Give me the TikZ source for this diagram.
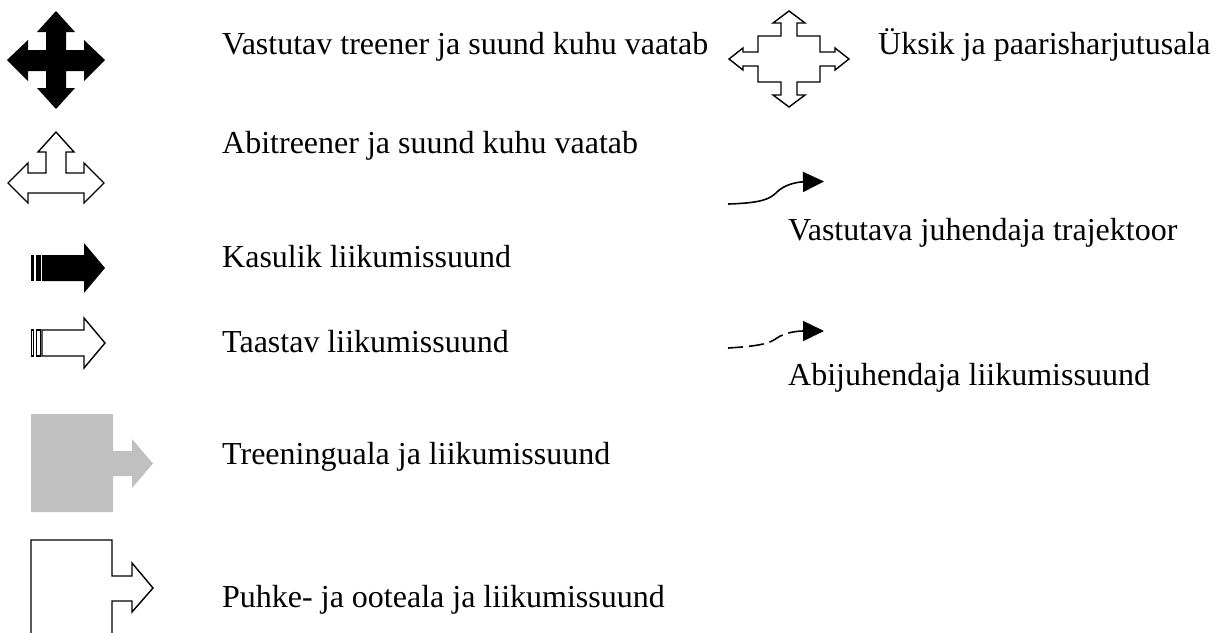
\documentclass[tikz,border=0pt]{standalone}
\usepackage{fontspec}
\setmainfont{Liberation Serif}
\usepackage{tikz}
\usetikzlibrary{arrows.meta}
\definecolor{areagray}{HTML}{C0C0C0}

\begin{document}
\begin{tikzpicture}[x=1pt,y=-1pt,
        symline/.style={draw=black,line width=1.4pt,fill=white},
        symsolid/.style={fill=black},
        lbl/.style={anchor=base west,inner sep=0pt,font=\fontsize{32}{38}\selectfont},
        traj/.style={line width=1.6pt,-{Triangle[length=21pt,width=20pt]}}]
    \useasboundingbox (0,0) rectangle (1220,632);

    % vastutav treener
    \begin{scope}[shift={(56,60)}]
        \fill[symsolid] (0,-49) -- (19,-28) -- (10,-28) -- (10,-10) -- (28,-10) -- (28,-20) -- (49,0)
            -- (28,21) -- (28,11) -- (10,11) -- (10,28) -- (19,28) -- (0,49) -- (-19,28) -- (-10,28)
            -- (-10,11) -- (-28,11) -- (-28,21) -- (-49,0) -- (-28,-20) -- (-28,-10) -- (-10,-10)
            -- (-10,-28) -- (-19,-28) -- cycle;
    \end{scope}

    % abitreener
    \begin{scope}[shift={(56,183)}]
        \draw[symline] (0,-51) -- (18,-31) -- (10,-31) -- (10,-10) -- (28,-10) -- (28,-20) -- (48,0)
            -- (28,20) -- (28,10) -- (-28,10) -- (-28,20) -- (-48,0) -- (-28,-20) -- (-28,-10)
            -- (-10,-10) -- (-10,-31) -- (-18,-31) -- cycle;
    \end{scope}

    % kasulik liikumissuund
    \begin{scope}[shift={(0,268)}]
        \fill[symsolid] (42,-13) -- (84,-13) -- (84,-25) -- (105,0) -- (84,25) -- (84,13) -- (42,13) -- cycle;
        \fill[symsolid] (31,-13) rectangle (34.3,13);
        \fill[symsolid] (35.7,-13) rectangle (40.8,13);
    \end{scope}

    % taastav liikumissuund
    \begin{scope}[shift={(0,343)}]
        \draw[symline] (42,-13) -- (84,-13) -- (84,-25) -- (105,0) -- (84,25) -- (84,13) -- (42,13) -- cycle;
        \draw[symline,line width=1.2pt] (31.6,-13) rectangle (33.8,13);
        \draw[symline,line width=1.2pt] (36.3,-13) rectangle (40.2,13);
    \end{scope}

    % treeninguala
    \fill[areagray] (31,414) -- (113,414) -- (113,451) -- (132,451) -- (132,439) -- (153,463.5)
        -- (132,488) -- (132,476) -- (113,476) -- (113,512) -- (31,512) -- cycle;

    % puhkeala
    \draw[symline] (31,540) -- (112,540) -- (112,576) -- (132,576) -- (132,563) -- (153,588)
        -- (132,612) -- (132,601) -- (112,601) -- (112,640) -- (31,640) -- cycle;

    % yksik ja paaris
    \begin{scope}[shift={(789,59)}]
        \draw[symline] (0,-48) -- (16,-36) -- (8,-36) -- (8,-23) -- (31,-23) -- (31,-7) -- (46,-7)
            -- (46,-11) -- (60,0) -- (46,11) -- (46,7) -- (31,7) -- (31,23) -- (8,23) -- (8,36)
            -- (16,36) -- (0,48) -- (-16,36) -- (-8,36) -- (-8,23) -- (-31,23) -- (-31,7) -- (-46,7)
            -- (-46,11) -- (-60,0) -- (-46,-11) -- (-46,-7) -- (-31,-7) -- (-31,-23) -- (-8,-23)
            -- (-8,-36) -- (-16,-36) -- cycle;
    \end{scope}

    % trajektoorid
    \coordinate (trajA) at (728,204);
    \coordinate (trajB) at (824,181.5);
    \coordinate (abiA) at (728,348);
    \coordinate (abiB) at (824,331);
    \draw[traj] (trajA) .. controls (762,203) and (770,199) .. (777,192)
        .. controls (784,185) and (796,182) .. (trajB);
    \draw[traj,dash pattern=on 15pt off 6pt] (abiA) .. controls (762,346) and (770,343) .. (777,338)
        .. controls (784,333) and (796,331) .. (abiB);

    \node[lbl] (vastutav) at (222,54) {Vastutav treener ja suund kuhu vaatab};
    \node[lbl] (abitreener) at (222,153) {Abitreener ja suund kuhu vaatab};
    \node[lbl] (kasulik) at (222,267) {Kasulik liikumissuund};
    \node[lbl] (taastav) at (222,352) {Taastav liikumissuund};
    \node[lbl] (treening) at (222,464) {Treeninguala ja liikumissuund};
    \node[lbl] (puhke) at (222,607) {Puhke- ja ooteala ja liikumissuund};
    \node[lbl] (yksik) at (878,54) {Üksik ja paarisharjutusala};
    \node[lbl] (juhendaja) at (788,240) {Vastutava juhendaja trajektoor};
    \node[lbl] (abijuhendaja) at (788,385) {Abijuhendaja liikumissuund};
\end{tikzpicture}
\end{document}
